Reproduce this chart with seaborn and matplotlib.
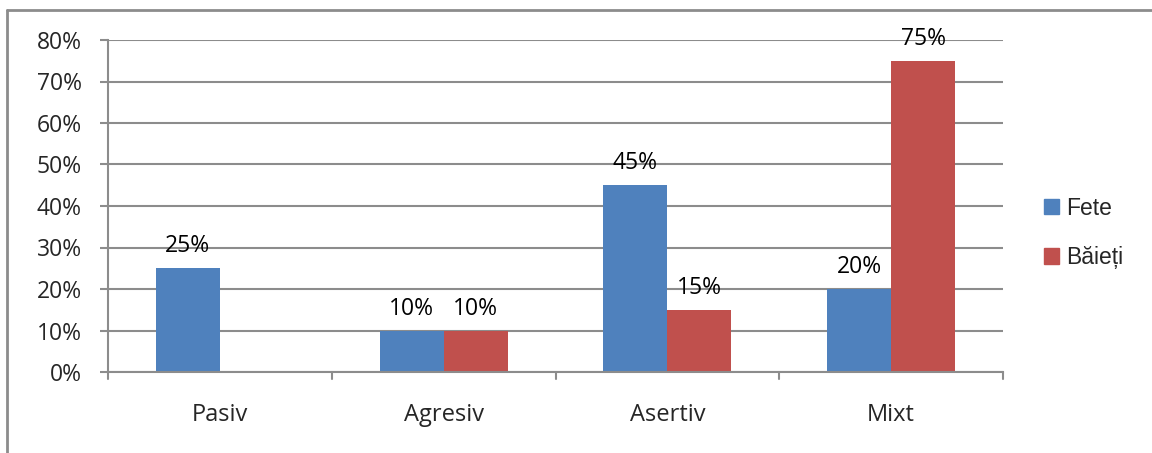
import pandas as pd
import matplotlib.pyplot as plt
import seaborn as sns
from matplotlib.patches import Rectangle
from matplotlib.lines import Line2D

categories = ["Pasiv", "Agresiv", "Asertiv", "Mixt"]
fete = [25, 10, 45, 20]
baieti = [0, 10, 15, 75]
series = ["Fete", "Băieți"]
colors = ["#4F81BD", "#C0504D"]

df = pd.DataFrame({
    "cat": categories * 2,
    "val": fete + baieti,
    "grup": [series[0]] * 4 + [series[1]] * 4,
})

sns.set_style("white")
plt.rcParams["font.family"] = ["Open Sans", "DejaVu Sans"]
grey = "#8C8C8C"

fig = plt.figure(figsize=(11.52, 4.53), dpi=100)
ax = fig.add_axes([108 / 1152, 1 - 372 / 453, (1003 - 108) / 1152, (372 - 40) / 453])

sns.barplot(data=df, x="cat", y="val", hue="grup", palette=colors,
            width=0.572, saturation=1, linewidth=0, ax=ax, legend=False)

# etichete peste bare
for cont in ax.containers:
    for bar in cont:
        h = bar.get_height()
        if h > 0:
            ax.text(bar.get_x() + bar.get_width() / 2, h + 3.8, f"{h:.0f}%",
                    ha="center", va="baseline", fontsize=16.5, color="black")

ax.set_ylim(0, 80)
ax.set_xlim(-0.5, 3.5)
ax.set_yticks(range(0, 81, 10))
ax.set_yticklabels([f"{v}%" for v in range(0, 81, 10)], fontsize=16.5)
ax.yaxis.grid(True, color=grey, linewidth=1.5)
ax.set_axisbelow(True)
ax.set_xlabel("")
ax.set_ylabel("")
ax.set_xticks([0, 1, 2, 3])
ax.set_xticklabels(categories, fontsize=17)
ax.tick_params(axis="x", length=0, pad=22)
ax.tick_params(axis="y", length=5.8, color=grey, width=1.5, pad=13, left=True)
for b in [-0.5, 0.5, 1.5, 2.5, 3.5]:
    ax.plot([b, b], [0, -1.6], color=grey, lw=1.5, clip_on=False)
for s in ["top", "right"]:
    ax.spines[s].set_visible(False)
for s in ["left", "bottom"]:
    ax.spines[s].set_color(grey)
    ax.spines[s].set_linewidth(1.5)

handles = [Rectangle((0, 0), 1, 1, color=c) for c in colors]
fig.legend(handles, series, loc="center left", bbox_to_anchor=(1044 / 1152, 1 - 233 / 453),
           frameon=False, handlelength=0.65, handleheight=0.65,
           handletextpad=0.3, labelspacing=1.15, borderpad=0, borderaxespad=0,
           prop={"family": ["Liberation Sans", "DejaVu Sans"], "size": 16.5})

# chenarul graficului
fig.add_artist(Line2D([7 / 1152, 1], [1 - 10 / 453] * 2, transform=fig.transFigure,
                      color=grey, lw=2))
fig.add_artist(Line2D([7 / 1152] * 2, [0, 1 - 10 / 453], transform=fig.transFigure,
                      color=grey, lw=2))

fig.savefig("out.png", dpi=100)
